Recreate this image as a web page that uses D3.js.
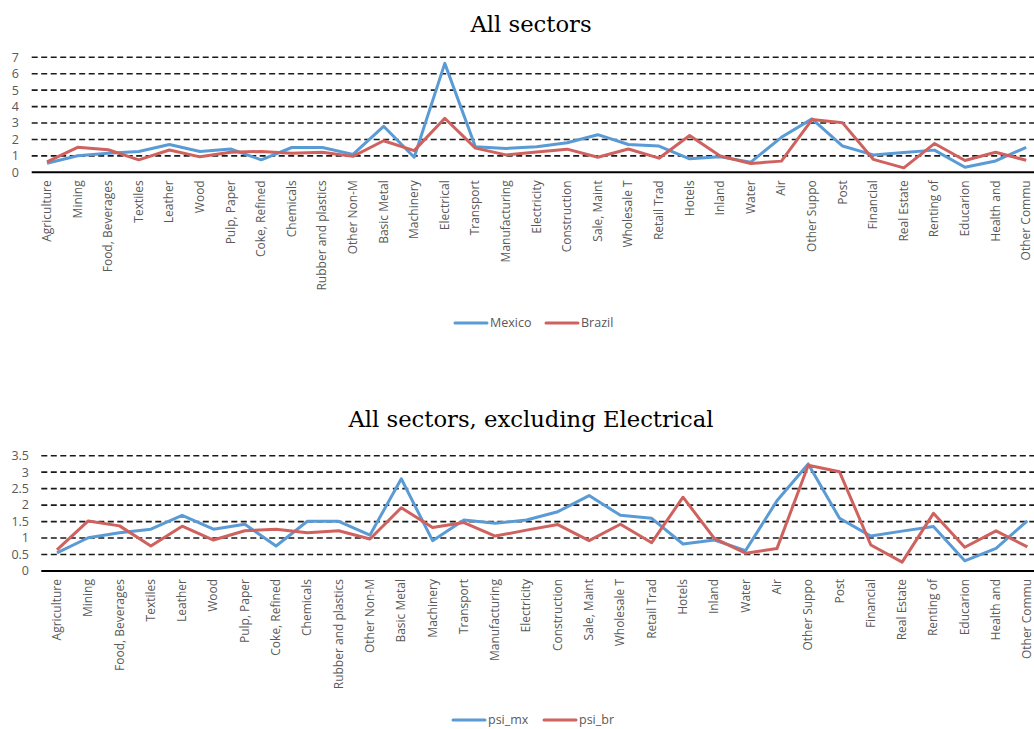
<!DOCTYPE html>
<html><head><meta charset="utf-8">
<script src="https://cdn.jsdelivr.net/npm/d3@7"></script>
<style>
body{margin:0;background:#fff;}
svg{display:block;}
</style></head>
<body>
<svg id="c" width="1034" height="729"></svg>
<script>
const categories = ["Agriculture","Mining","Food, Beverages","Textiles","Leather","Wood","Pulp, Paper","Coke, Refined","Chemicals","Rubber and plastics","Other Non-M","Basic Metal","Machinery","Electrical","Transport","Manufacturing","Electricity","Construction","Sale, Maint","Wholesale T","Retail Trad","Hotels","Inland","Water","Air","Other Suppo","Post","Financial","Real Estate","Renting of","Educarion","Health and","Other Commu"];
const mexico = [0.55,1.01,1.16,1.27,1.69,1.27,1.42,0.76,1.51,1.51,1.09,2.80,0.92,6.63,1.55,1.45,1.55,1.80,2.29,1.69,1.60,0.82,0.94,0.62,2.13,3.25,1.60,1.06,1.21,1.35,0.31,0.69,1.52];
const brazil = [0.64,1.52,1.37,0.76,1.36,0.94,1.22,1.27,1.16,1.22,0.97,1.92,1.32,3.29,1.47,1.06,1.24,1.41,0.92,1.42,0.86,2.24,0.99,0.54,0.68,3.21,3.01,0.79,0.27,1.75,0.72,1.22,0.73];
const topTicks = [0,1,2,3,4,5,6,7];
const bottomTicks = [0,0.5,1,1.5,2,2.5,3,3.5];
const excluded = "Electrical";
const catsEx = categories.filter(c => c !== excluded);
const psi_mx = mexico.filter((v,i) => categories[i] !== excluded);
const psi_br = brazil.filter((v,i) => categories[i] !== excluded);

const svg = d3.select("#c");
const BLUE = "#5B9BD5", RED = "#CF625E";

function drawChart(cfg){
  const g = svg.append("g");
  const x = d3.scaleBand().domain(cfg.cats).range([cfg.left, cfg.right]);
  const y = d3.scaleLinear().domain([0, cfg.ymax]).range([cfg.bottom, cfg.top]);
  // title
  g.append("text").attr("x", cfg.titleX).attr("y", cfg.titleY)
    .attr("text-anchor","middle").attr("font-family","'DejaVu Serif', 'Liberation Serif', serif")
    .attr("font-size", 22.7).attr("fill","#000").text(cfg.title);
  // grid
  g.selectAll(".grid").data(cfg.ticks.filter(t => t > 0)).enter().append("line")
    .attr("x1", cfg.left).attr("x2", 1034)
    .attr("y1", d => y(d)).attr("y2", d => y(d))
    .attr("stroke","#1a1a1a").attr("stroke-width",1.6).attr("stroke-dasharray","6,3.5");
  // baseline
  g.append("line").attr("x1", cfg.left).attr("x2", 1034)
    .attr("y1", y(0)).attr("y2", y(0)).attr("stroke","#000").attr("stroke-width",2);
  // y labels
  g.selectAll(".yl").data(cfg.ticks).enter().append("text")
    .attr("x", cfg.ylabX).attr("y", d => y(d)).attr("dy","0.35em")
    .attr("text-anchor","end").attr("font-family","'Open Sans', sans-serif")
    .attr("font-size", 12.5).attr("fill","#595959").text(d => d);
  // x labels
  g.selectAll(".xl").data(cfg.cats).enter().append("text")
    .attr("transform", d => `translate(${x(d)+x.bandwidth()/2+4},${y(0)+8}) rotate(-90)`)
    .attr("text-anchor","end").attr("font-family","'Open Sans', sans-serif")
    .attr("font-size", 12).attr("fill","#595959").text(d => d);
  // lines
  const line = d3.line().x((d,i) => x(cfg.cats[i]) + x.bandwidth()/2).y(d => y(d));
  cfg.series.forEach(s => {
    g.append("path").datum(s.values).attr("d", line).attr("fill","none")
      .attr("stroke", s.color).attr("stroke-width", 3).attr("stroke-linejoin","round");
  });
  // legend
  cfg.series.forEach((s,k) => {
    const lx = cfg.legX[k];
    g.append("line").attr("x1", lx).attr("x2", lx+32).attr("y1", cfg.legY).attr("y2", cfg.legY)
      .attr("stroke", s.color).attr("stroke-width", 3).attr("stroke-linecap","round");
    g.append("text").attr("x", lx+35).attr("y", cfg.legY).attr("dy","0.35em")
      .attr("font-family","'Open Sans', sans-serif").attr("font-size", 12.5).attr("fill","#595959")
      .text(s.name);
  });
}

drawChart({cats: categories, left: 31.7, right: 1041.5, top: 57.3, bottom: 172.3, ymax: 7,
  ticks: topTicks, ylabX: 19, title: "All sectors", titleX: 531, titleY: 32,
  series: [{name:"Mexico", values: mexico, color: BLUE},{name:"Brazil", values: brazil, color: RED}],
  legX: [455, 546], legY: 323});

drawChart({cats: catsEx, left: 41.3, right: 1043, top: 455.7, bottom: 571, ymax: 3.5,
  ticks: bottomTicks, ylabX: 29, title: "All sectors, excluding Electrical", titleX: 531, titleY: 427,
  series: [{name:"psi_mx", values: psi_mx, color: BLUE},{name:"psi_br", values: psi_br, color: RED}],
  legX: [453, 544], legY: 720});
</script>
</body></html>
